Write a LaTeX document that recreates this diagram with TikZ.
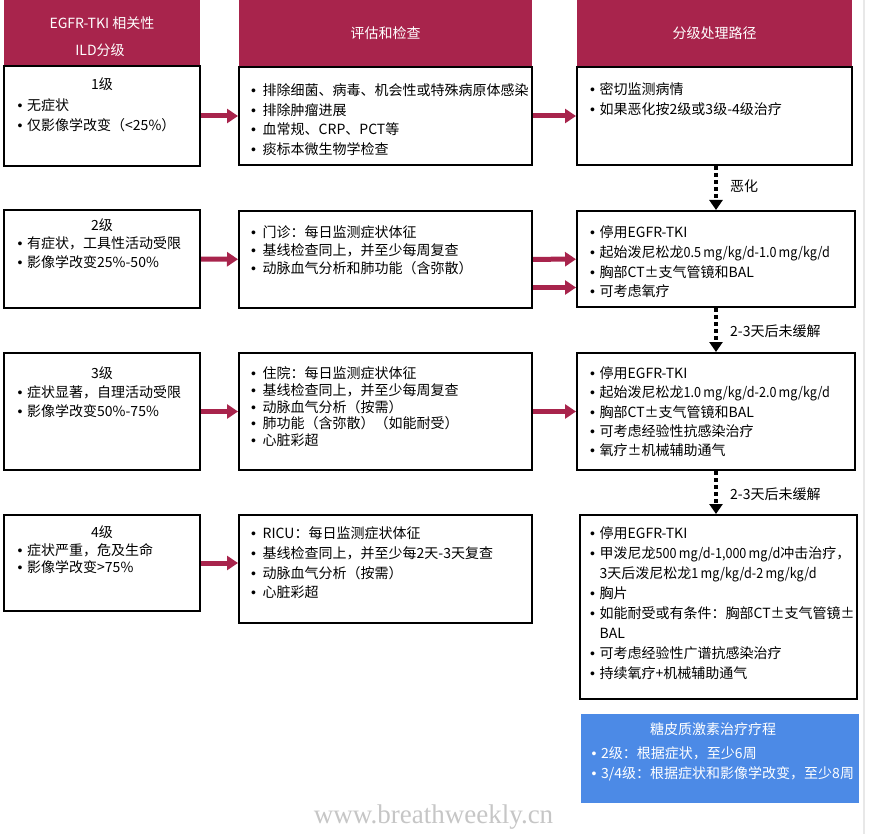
\documentclass[tikz,border=0pt]{standalone}
\usepackage{fontspec}
\setmainfont{Noto Sans CJK SC}
\newfontfamily\bulfont{Liberation Sans}
\newfontfamily\wmfont{Liberation Serif}
\newfontfamily\narrowfont[FakeStretch=0.9]{Noto Sans CJK SC}
\usetikzlibrary{arrows.meta}
\definecolor{crim}{HTML}{A8244C}
\definecolor{skyb}{HTML}{4C8AE6}
\newcommand\bu{\makebox[9.5pt][l]{\bulfont •}}
\newcommand\bw{\makebox[11.5pt][l]{\bulfont •}}
\newcommand\fs{\rule{0pt}{14pt}}
\newcommand\nr[1]{{\narrowfont #1}}
\newcommand\tsp{\hspace{2.2pt}}
\begin{document}
\begin{tikzpicture}[x=1pt,y=-1pt,
  box/.style={draw=black, line width=2pt, fill=white, inner sep=0pt},
  hdr/.style={fill=crim, inner sep=0pt, minimum height=66pt},
  hdrtxt/.style={text=white, anchor=base, inner sep=0pt, font=\fontsize{14}{17}\selectfont},
  ttl/.style={anchor=base, inner sep=0pt, font=\fontsize{14}{17}\selectfont},
  txt/.style={anchor=north west, inner sep=0pt, align=left, font=\fontsize{14}{#1}\selectfont},
  txt/.default=20,
  arr/.style={draw=crim, line width=5pt, -{Triangle[width=14pt,length=11pt]}},
  dotarr/.style={draw=black, line width=4pt, dash pattern=on 4pt off 3pt, -{Triangle[width=13pt,length=10pt]}},
  lbl/.style={anchor=base west, inner sep=0pt, font=\fontsize{14}{17}\selectfont}
]
\fill[white] (0,0) rectangle (872,834);
\useasboundingbox (0,0) rectangle (872,834);
\draw[gray!18, line width=2.5pt] (864,0) -- (864,834);

% headers
\node[hdr, minimum width=196pt] (h1) at (102,33) {};
\node[hdr, minimum width=293pt] (h2) at (385.5,33) {};
\node[hdr, minimum width=275pt] (h3) at (714.5,33) {};
\node[hdrtxt] (h1a) at (102,28.3) {EGFR-TKI 相关性};
\node[hdrtxt] (h1b) at (100,55.3) {ILD分级};
\node[hdrtxt] (h2t) at (385.5,38.3) {评估和检查};
\node[hdrtxt] (h3t) at (714.5,38.3) {分级处理路径};

% boxes
\node[box, minimum width=196pt, minimum height=100pt] (b11) at (102,116) {};
\node[box, minimum width=293pt, minimum height=98pt] (b12) at (385.5,116) {};
\node[box, minimum width=275pt, minimum height=98pt] (b13) at (714.5,116) {};
\node[box, minimum width=196pt, minimum height=98pt] (b21) at (102,259) {};
\node[box, minimum width=293pt, minimum height=97pt] (b22) at (385.5,259.5) {};
\node[box, minimum width=278pt, minimum height=96pt] (b23) at (716,259) {};
\node[box, minimum width=196pt, minimum height=117pt] (b31) at (102,411.5) {};
\node[box, minimum width=293pt, minimum height=117pt] (b32) at (385.5,411.5) {};
\node[box, minimum width=278pt, minimum height=117pt] (b33) at (716,411.5) {};
\node[box, minimum width=196pt, minimum height=96pt] (b41) at (102,563) {};
\node[box, minimum width=293pt, minimum height=108pt] (b42) at (385.5,569) {};
\node[box, minimum width=277pt, minimum height=184pt] (b43) at (718.5,607) {};
\node[fill=skyb, inner sep=0pt, minimum width=278pt, minimum height=89pt] (gc) at (720,758.5) {};

% row 1 text
\node[ttl] (t11a) at (102,89.5) {1级};
\node[txt] (t11) at (17.5,96.5) {\fs\bu 无症状\\\bu 仅影像学改变（<25\%）};
\node[txt=19.5] (t12) at (251,81.5) {\fs\bw 排除细菌、病毒、机会性或特殊病原体感染\\\bw 排除肿瘤进展\\\bw 血常规、CRP、PCT等\\\bw 痰标本微生物学检查};
\node[txt] (t13) at (590,80) {\fs\bu 密切监测病情\\\bu 如果恶化按2级或3级-4级治疗};

% row 2 text
\node[ttl] (t21a) at (102,230.5) {2级};
\node[txt=19] (t21) at (17.5,234.8) {\fs\bu 有症状，工具性活动受限\\\bu 影像学改变25\%-50\%};
\node[txt=18] (t22) at (251,223.5) {\fs\bw 门诊：每日监测症状体征\\\bw 基线检查同上，并至少每周复查\\\bw 动脉血气分析和肺功能（含弥散）};
\node[txt=19.7] (t23) at (590,223.5) {\fs\bu 停用EGFR-TKI\\\bu 起始泼尼松龙\nr{0.5\tsp mg/kg/d-1.0\tsp mg/kg/d}\\\bu 胸部CT±支气管镜和BAL\\\bu 可考虑氧疗};

% row 3 text
\node[ttl] (t31a) at (102,378.5) {3级};
\node[txt=18.5] (t31) at (17.5,383.5) {\fs\bu 症状显著，自理活动受限\\\bu 影像学改变50\%-75\%};
\node[txt=16.75] (t32) at (251,364.3) {\fs\bw 住院：每日监测症状体征\\\bw 基线检查同上，并至少每周复查\\\bw 动脉血气分析（按需）\\\bw 肺功能（含弥散）（如能耐受）\\\bw 心脏彩超};
\node[txt=19.25] (t33) at (590,364.3) {\fs\bu 停用EGFR-TKI\\\bu 起始泼尼松龙\nr{1.0\tsp mg/kg/d-2.0\tsp mg/kg/d}\\\bu 胸部CT±支气管镜和BAL\\\bu 可考虑经验性抗感染治疗\\\bu 氧疗±机械辅助通气};

% row 4 text
\node[ttl] (t41a) at (102,537.3) {4级};
\node[txt=17] (t41) at (17.5,541.3) {\fs\bu 症状严重，危及生命\\\bu 影像学改变>75\%};
\node[txt=19.8] (t42) at (251,524.3) {\fs\bw RICU：每日监测症状体征\\\bw 基线检查同上，并至少每2天-3天复查\\\bw 动脉血气分析（按需）\\\bw 心脏彩超};
\node[txt=20] (t43) at (590,524.3) {\fs\bu 停用EGFR-TKI\\\bu 甲泼尼龙\nr{500\tsp mg/d-1,000\tsp mg/d}冲击治疗，\\\hphantom{\bu}3天后泼尼松龙\nr{1\tsp mg/kg/d-2\tsp mg/kg/d}\\\bu 胸片\\\bu 如能耐受或有条件：胸部CT±支气管镜±\\\hphantom{\bu}BAL\\\bu 可考虑经验性广谱抗感染治疗\\\bu 持续氧疗+机械辅助通气};

% glucocorticoid box text
\node[ttl, text=white] (gct) at (713,734.3) {糖皮质激素治疗疗程};
\node[txt=20, text=white] (gcl) at (591.5,744.3) {\fs\bu 2级：根据症状，至少6周\\\bu 3/4级：根据症状和影像学改变，至少8周};

% arrows
\draw[arr] (b11) -- (b12);
\draw[arr] (b12) -- (b13);
\draw[arr] (b21) -- (b22);
\draw[arr] (b22) -- (b23);
\draw[arr] ([yshift=-28pt]b22.east) -- ([yshift=-28pt]b22.east -| b23.west);
\draw[arr] (b31) -- (b32);
\draw[arr] (b32) -- (b33);
\draw[arr] (b41) -- (b41 -| b42.west);

% dotted arrows
\draw[dotarr] (b13.south -| b23.north) -- (b23.north);
\node[lbl] (l1) at (730,191.3) {恶化};
\draw[dotarr] (b23) -- (b33);
\node[lbl] (l2) at (730,336.3) {2-3天后未缓解};
\draw[dotarr] (b33.south) -- (b33.south |- b43.north);
\node[lbl] (l3) at (730,499.3) {2-3天后未缓解};

% watermark
\node[font=\wmfont\fontsize{27}{30}\selectfont, text=gray!45, anchor=base, inner sep=0pt] (wm) at (433.5,823.5) {www.breathweekly.cn};
\end{tikzpicture}
\end{document}
